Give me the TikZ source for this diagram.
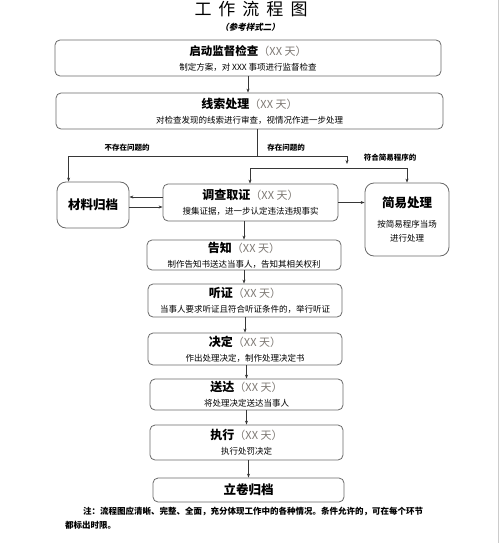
\documentclass[tikz,border=0pt]{standalone}
\usepackage{fontspec}
\setmainfont{Noto Sans CJK SC}
\newfontfamily\slantcjk[FakeSlant=0.2]{Noto Sans CJK SC}
\usepackage{xcolor}
\usetikzlibrary{arrows.meta, positioning}

\definecolor{boxgray}{RGB}{105,105,105}
\definecolor{arrgray}{RGB}{55,55,55}
\definecolor{daygray}{RGB}{125,120,115}
\newcommand{\days}{{\color{daygray}\fontsize{11}{15}\selectfont（XX 天）}}

\begin{document}
\begin{tikzpicture}[x=1pt, y=-1pt,
    stage/.style={draw=boxgray, line width=0.8pt, rounded corners=5pt,
      align=center, inner sep=0pt, font=\fontsize{8.5}{15}\selectfont},
    side/.style={stage, rounded corners=9pt},
    arr/.style={-{Stealth[length=4pt, width=3pt]}, line width=0.7pt, arrgray},
    link/.style={line width=0.7pt, arrgray},
    lbl/.style={font=\fontsize{7.5}{8}\selectfont\bfseries},
  ]
    \useasboundingbox (0,0) rectangle (500,543);
    \draw[gray!40, line width=0.8pt] (498,0) -- (498,543);

    % ═══ Title ═══
    \node[font=\fontsize{17}{17}\selectfont] (title) at (251,9)
      {工\hspace{7pt}作\hspace{7pt}流\hspace{7pt}程\hspace{7pt}图};
    \node[font=\slantcjk\fontsize{8.5}{9}\selectfont\bfseries] (subtitle) at (250,27)
      {（参考样式二）};

    % ═══ Start and clues ═══
    \node[stage, minimum width=386pt, minimum height=36pt] (start) at (248,58)
      {{\fontsize{11.5}{15}\selectfont\bfseries 启动监督检查}\days\\
       制定方案，对 XXX 事项进行监督检查};
    \node[stage, minimum width=387pt, minimum height=36pt] (clue) at (249.5,111)
      {{\fontsize{12}{15}\selectfont\bfseries 线索处理}\days\\
       对检查发现的线索进行审查，视情况作进一步处理};

    % ═══ Branch row ═══
    \node[side, minimum width=72pt, minimum height=46pt] (archive) at (93,205)
      {\fontsize{12.5}{15}\selectfont\bfseries 材料归档};
    \node[stage, minimum width=175pt, minimum height=37pt] (invest) at (250.5,202.5)
      {{\fontsize{12}{15}\selectfont\bfseries 调查取证}\days\\
       搜集证据，进一步认定违法违规事实};
    \node[side, minimum width=84pt, minimum height=73pt] (simple) at (407,219.5)
      {{\fontsize{12.5}{15}\selectfont\bfseries 简易处理}\\[5pt]
       按简易程序当场\\[-1pt] 进行处理};

    % ═══ Main chain ═══
    \node[stage, minimum width=194pt, minimum height=30pt] (notify) at (244,255)
      {{\fontsize{12}{15}\selectfont\bfseries 告知}\days\\
       制作告知书送达当事人，告知其相关权利};
    \node[stage, minimum width=194pt, minimum height=33pt] (hearing) at (245,300.5)
      {{\fontsize{12}{15}\selectfont\bfseries 听证}\days\\
       当事人要求听证且符合听证条件的，举行听证};
    \node[stage, minimum width=194pt, minimum height=32pt] (decide) at (245,349)
      {{\fontsize{12}{15}\selectfont\bfseries 决定}\days\\
       作出处理决定，制作处理决定书};
    \node[stage, minimum width=193pt, minimum height=31pt] (deliver) at (246.5,394.5)
      {{\fontsize{12}{15}\selectfont\bfseries 送达}\days\\
       将处理决定送达当事人};
    \node[stage, minimum width=193pt, minimum height=35pt] (execute) at (246.5,442.5)
      {{\fontsize{12}{15}\selectfont\bfseries 执行}\days\\
       执行处罚决定};
    \node[stage, minimum width=191pt, minimum height=24pt] (file) at (248.5,490)
      {\fontsize{12.5}{15}\selectfont\bfseries 立卷归档};

    % Branch points
    \coordinate (split) at (257,156);
    \coordinate (yes) at (347,164);
    \coordinate (fork) at (250,168);
    \coordinate (forkr) at (407,168);

    % Branch arrows
    \draw[arr] (start.south) -- (start.south |- clue.north);
    \draw[link] (clue.south -| split) -- (split);
    \draw[arr] (split) -| ([xshift=12pt]archive.north west);
    \draw[arr] (split) -| (yes);
    \draw[link] (fork) -- (forkr);
    \draw[arr] (fork) -- (fork |- invest.north);
    \draw[arr] (forkr) -- (forkr |- simple.north);
    \draw[arr] ([yshift=5.5pt]invest.west) -- ([yshift=5.5pt]invest.west -| archive.east);
    \draw[arr] ([yshift=-4.5pt]invest.west -| archive.east) -- ([yshift=-4.5pt]invest.west);
    \draw[arr] (invest.east) -- (invest.east -| simple.west);

    \node[lbl] (nolabel) at (127,148) {不存在问题的};
    \node[lbl] (yeslabel) at (286,148) {存在问题的};
    \node[lbl] (easylabel) at (390,158) {符合简易程序的};

    % Chain arrows
    \draw[arr] (invest.south -| notify.north) -- (notify.north);
    \draw[arr] (notify.south) -- (notify.south |- hearing.north);
    \draw[arr] (hearing.south) -- (hearing.south |- decide.north);
    \draw[arr] (decide.south -| deliver.north) -- (deliver.north);
    \draw[arr] (deliver.south) -- (deliver.south |- execute.north);
    \draw[arr] (execute.south -| file.north) -- (file.north);

    % ═══ Note ═══
    \node[font=\fontsize{8.5}{14}\selectfont\bfseries, align=left, anchor=north west,
      inner sep=0pt] (note) at (65,507)
      {\hspace*{18pt}注：流程图应清晰、完整、全面，充分体现工作中的各种情况。条件允许的，可在每个环节\\
       都标出时限。};
  \end{tikzpicture}
\end{document}
